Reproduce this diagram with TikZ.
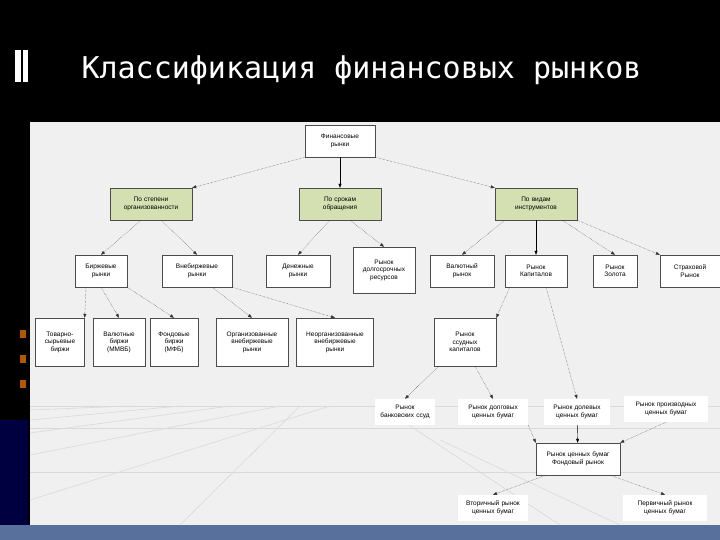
\documentclass[tikz,border=0pt]{standalone}
\usepackage{fontspec}
\setmainfont{Liberation Sans}
\newfontfamily\titlefont{DejaVu Sans Mono}
\usetikzlibrary{arrows.meta}
\definecolor{grn}{RGB}{213,224,178}
\definecolor{bgc}{RGB}{240,240,240}
\definecolor{botbar}{RGB}{88,112,156}
\begin{document}
\begin{tikzpicture}[x=1pt,y=-1pt,
 box/.style={draw=black!70,fill=white,align=center,font=\fontsize{6.5}{7.5}\selectfont,inner sep=1pt,minimum height=32,text width=#1-2},
 box/.default=64,
 gbox/.style={box=#1,fill=grn},
 gbox/.default=82,
 dl/.style={densely dotted,-{Triangle[length=4pt,width=3pt]},black!80},
 sl/.style={-{Triangle[length=4pt,width=3pt]},black}]
\useasboundingbox (0,0) rectangle (720,540);
\fill[black] (0,0) rectangle (720,540);
\fill[bgc] (30,122) rectangle (720,525);
\fill[botbar] (0,525) rectangle (720,540);
\fill[white] (15,50) rectangle (21,82);
\fill[white] (23,50) rectangle (28,82);
\fill[black!75!blue] (0,420) rectangle (28,525);
\foreach \y in {330,355,380}{\fill[orange!70!black] (20,\y) rectangle (26,\y+8);}
\begin{scope}[black!15,line width=0.6pt]
\draw (30,406) -- (720,406);
\draw (30,428) -- (720,428);
\draw (30,472) -- (720,472);
\foreach \y/\x in {410/80,420/130,433/180,455/230,500/280}{\draw (30,\y) -- (\x+50,406);}
\draw (180,525) -- (300,406);
\draw (380,406) -- (560,525);
\draw (440,440) -- (620,525);
\end{scope}
\node[white,anchor=west,font=\titlefont\fontsize{30}{34}\selectfont] (title) at (78,70) {Классификация финансовых рынков};

\node[box=70] (fin) at (340,141) {Финансовые\\рынки};
\node[gbox] (org) at (151,204) {По степени\\организованности};
\node[gbox] (srok) at (340,204) {По срокам\\обращения};
\node[gbox] (vid) at (536,204) {По видам\\инструментов};
\node[box=52] (birzh) at (101,271) {Биржевые\\рынки};
\node[box=70] (vneb) at (197,271) {Внебиржевые\\рынки};
\node[box=64] (den) at (298,271) {Денежные\\рынки};
\node[box=62,minimum height=46] (dolg) at (384,270) {Рынок\\долгосрочных\\ресурсов};
\node[box=64] (val) at (462,271) {Валютный\\рынок};
\node[box=62] (kap) at (536,271) {Рынок\\Капиталов};
\node[box=44] (zol) at (615,271) {Рынок\\Золота};
\node[box=60] (str) at (690,271) {Страховой\\Рынок};
\node[box=49,minimum height=48] (tov) at (60,342) {Товарно-\\сырьевые\\биржи};
\node[box=52,minimum height=48] (vb) at (119,342) {Валютные\\биржи\\(ММВБ)};
\node[box=48,minimum height=48] (fb) at (174,342) {Фондовые\\биржи\\(МФБ)};
\node[box=72,minimum height=48] (orgv) at (252,342) {Организованные\\внебиржевые\\рынки};
\node[box=77,minimum height=48] (neorg) at (335,342) {Неорганизованные\\внебиржевые\\рынки};
\node[box=62,minimum height=48] (ssud) at (465,342) {Рынок\\ссудных\\капиталов};
\node[box=60,draw=none,minimum height=26] (bank) at (405,412) {Рынок\\банковских ссуд};
\node[box=70,draw=none,minimum height=26] (dolgcb) at (493,412) {Рынок долговых\\ценных бумаг};
\node[box=66,draw=none,minimum height=26] (dolev) at (577,412) {Рынок долевых\\ценных бумаг};
\node[box=84,draw=none,minimum height=26] (proizv) at (666,409) {Рынок производных\\ценных бумаг};
\node[box=84] (rcb) at (578,459) {Рынок ценных бумаг\\Фондовый рынок};
\node[box=70,draw=none,minimum height=26] (vtor) at (493,508) {Вторичный рынок\\ценных бумаг};
\node[box=84,draw=none,minimum height=26] (perv) at (665,508) {Первичный рынок\\ценных бумаг};

\draw[dl] (fin.south west) -- (org.north east);
\draw[sl] (fin) -- (srok);
\draw[dl] (fin.south east) -- (vid.north west);
\draw[dl] (org.south) ++(-10,0) -- (birzh.north);
\draw[dl] (org.south) ++(10,0) -- (vneb.north);
\draw[dl] (srok.south) ++(-10,0) -- (den.north);
\draw[dl] (srok.south) ++(10,0) -- (dolg.north);
\draw[dl] (vid.south west) ++(10,0) -- (val.north);
\draw[sl] (vid) -- (kap);
\draw[dl] (vid.south east) ++(-15,0) -- (zol.north);
\draw[dl] (vid.south east) -- (str.north west);
\draw[dl] (birzh.south) ++(-15,0) -- (tov.north east);
\draw[dl] (birzh.south) -- (vb.north);
\draw[dl] (birzh.south east) -- (fb.north);
\draw[dl] (vneb.south east) ++(-20,0) -- (orgv.north);
\draw[dl] (vneb.south east) -- (neorg.north);
\draw[dl] (kap.south west) ++(5,0) -- (ssud.north east);
\draw[dl] (kap.south) ++(10,0) -- (dolev.north);
\draw[dl] (ssud.south west) ++(5,0) -- (bank.north);
\draw[dl] (ssud.south) ++(10,0) -- (dolgcb.north);
\draw[dl] (dolgcb.south east) -- (rcb.north west);
\draw[sl] (dolev) -- (rcb);
\draw[dl] (proizv.south) -- (rcb.north east);
\draw[dl] (rcb.south west) ++(10,0) -- (vtor.north);
\draw[dl] (rcb.south east) ++(-10,0) -- (perv.north);
\end{tikzpicture}
\end{document}
